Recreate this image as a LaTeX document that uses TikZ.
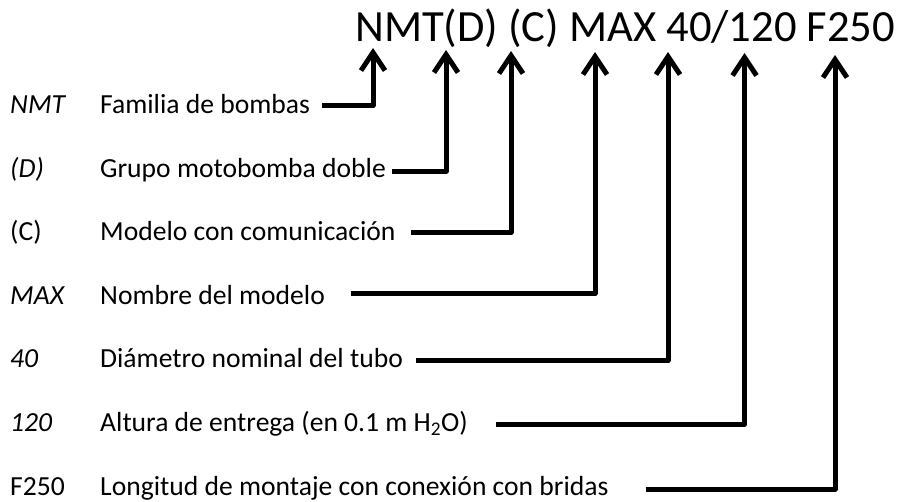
\documentclass[tikz,border=0pt]{standalone}
\usepackage{fontspec}
\setmainfont{Carlito}
\usetikzlibrary{arrows.meta}
\tikzset{>={Straight Barb[length=18pt,width=24pt]}}

\begin{document}
\begin{tikzpicture}[x=1pt,y=-1pt,
  code/.style={anchor=base west, inner sep=0pt, font=\fontsize{44.6}{52}\selectfont},
  key/.style={anchor=base west, inner sep=0pt, font=\fontsize{27.6}{33}\selectfont},
  conn/.style={->, line width=5pt, line join=round}]
\useasboundingbox (0,0) rectangle (902,501);
\node[code] (type) at (355,41.7) {NMT(D) (C) MAX 40/120 F250};
% where the arrows end, under the type code
\coordinate (tNMT) at (373,48);
\coordinate (tD) at (446,50);
\coordinate (tC) at (511,51);
\coordinate (tMAX) at (595,52);
\coordinate (tDN) at (668,52);
\coordinate (tH) at (744.5,53);
\coordinate (tF) at (835,55);
% keys and their meaning
\node[key] (kNMT) at (10,113.3) {\textit{NMT}};
\node[key] (dNMT) at (100,113.3) {Familia de bombas};
\node[key] (kD) at (10,177) {\textit{(D)}};
\node[key] (dD) at (100,177) {Grupo motobomba doble};
\node[key] (kC) at (10,240.6) {(C)};
\node[key] (dC) at (100,240.6) {Modelo con comunicación};
\node[key] (kMAX) at (10,304.2) {\textit{MAX}};
\node[key] (dMAX) at (100,304.2) {Nombre del modelo};
\node[key] (kDN) at (10,367.8) {\textit{40}};
\node[key] (dDN) at (100,367.8) {Diámetro nominal del tubo};
\node[key] (kH) at (10,431.4) {\textit{120}};
\node[key] (dH) at (100,431.4) {Altura de entrega (en 0.1 m H\textsubscript{2}O)};
\node[key] (kF) at (10,495) {F250};
\node[key] (dF) at (100,495) {Longitud de montaje con conexión con bridas};
% connectors
\draw[conn] ([shift={(12,-7.6)}]dNMT.base east) -| (tNMT);
\draw[conn] ([shift={(6,-6)}]dD.base east) -| (tD);
\draw[conn] ([shift={(15,-8)}]dC.base east) -| (tC);
\draw[conn] ([shift={(26,-10.5)}]dMAX.base east) -| (tMAX);
\draw[conn] ([shift={(13,-7.3)}]dDN.base east) -| (tDN);
\draw[conn] ([shift={(28,-7)}]dH.base east) -| (tH);
\draw[conn] ([shift={(37,-6)}]dF.base east) -| (tF);
\end{tikzpicture}
\end{document}
